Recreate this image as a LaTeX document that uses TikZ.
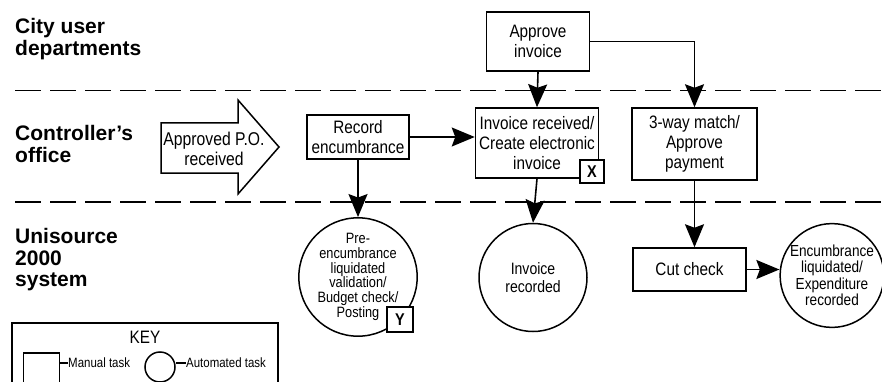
\documentclass[tikz,border=0pt]{standalone}
\usepackage{fontspec}
\setmainfont{Liberation Sans}
\newfontfamily\narrowfont[FakeStretch=0.85]{Liberation Sans}
\usetikzlibrary{arrows.meta}
\begin{document}
\begin{tikzpicture}[x=1pt,y=-1pt,
  every node/.style={inner sep=0pt},
  lane/.style={anchor=north west, align=left,
    font=\bfseries\fontsize{21}{21.5}\selectfont},
  task/.style={draw, line width=1.5pt, align=center,
    font=\narrowfont\fontsize{18}{20}\selectfont},
  autotask/.style={circle, draw, line width=1.5pt, align=center},
  tag/.style={draw, fill=white, line width=1.5pt,
    font=\bfseries\narrowfont\fontsize{17}{17}\selectfont},
  flow/.style={line width=1.6pt, -{Stealth[length=23pt,width=19pt,inset=3.5pt]}},
  divider/.style={line width=1.5pt, dash pattern=on 26pt off 9pt},
  keytext/.style={font=\narrowfont\fontsize{13.5}{14}\selectfont, anchor=west}]

\clip (0,0) rectangle (882,382);
\fill[white] (0,0) rectangle (882,382);

% swim-lane dividers
\draw[divider] (15,90.5) -- (882,90.5);
\draw[divider] (15,202) -- (882,202);

% lane titles
\node[lane] (laneA) at (15,18.5) {City user\\departments};
\node[lane] (laneB) at (15,125.5) {Controller's\\office};
\node[lane] (laneC) at (15,228.5) {Unisource\\2000\\system};

% incoming purchase order
\draw[line width=1.5pt, line join=miter]
  (161,123) -- (238,123) -- (238,100) -- (279,147) -- (238,194)
  -- (238,173) -- (161,173) -- cycle;
\node[font=\narrowfont\fontsize{18.5}{20}\selectfont, align=center]
  (po) at (214,149) {Approved P.O.\\received};

% manual tasks
\node[task, minimum width=103pt, minimum height=59pt] (appr) at (538,41.5) {Approve\\invoice};
\node[task, minimum width=102pt, minimum height=44pt] (rec) at (358,137) {Record\\encumbrance};
\node[task, minimum width=123pt, minimum height=70pt] (inv) at (537,143) {Invoice received/\\Create electronic\\invoice};
\node[task, minimum width=125pt, minimum height=72pt] (tw) at (694.5,144) {3-way match/\\Approve\\payment};
\node[task, minimum width=113pt, minimum height=43pt] (cut) at (689.5,269.5) {Cut check};

% automated tasks
\node[autotask, minimum size=109pt, font=\narrowfont\fontsize{15}{14.7}\selectfont]
  (pre) at (358,277) {Pre-\\encumbrance\\liquidated\\validation/\\Budget check/\\Posting};
\node[autotask, minimum size=108pt, font=\narrowfont\fontsize{16.5}{18.5}\selectfont]
  (irec) at (533,277.5) {Invoice\\recorded};
\node[autotask, minimum size=100pt, font=\narrowfont\fontsize{16}{16.5}\selectfont]
  (enc) at (832,275.5) {Encumbrance\\liquidated/\\Expenditure\\recorded};

% tags
\node[tag, minimum width=24pt, minimum height=23pt] (tagX) at (592,171.5) {X};
\node[tag, minimum width=26pt, minimum height=25pt] (tagY) at (400,319.5) {Y};

% flow
\draw[flow] (appr.south) -- (inv.north);
\draw[flow] (appr.east) -- (appr.east -| tw.north) -- (tw.north);
\draw[flow] (rec.east) -- (inv.west |- rec.east);
\draw[flow] (rec.south) -- (pre.north);
\draw[flow] (inv.south) -- (irec.north);
\draw[flow] (tw.south) -- (tw.south |- cut.north);
\draw[flow] (cut.east) -- (cut.east -| enc.west);

% key
\draw[line width=1.5pt] (12,400) -- (12,323) -- (278,323) -- (278,400);
\node[font=\narrowfont\fontsize{18}{18}\selectfont] (keytitle) at (145,337) {KEY};
\node[draw, line width=1.5pt, minimum width=36pt, minimum height=40pt] (keybox) at (41.5,373) {};
\coordinate (keyboxlead) at (68,363);
\draw[line width=1.2pt] (keybox.east |- keyboxlead) -- (keyboxlead);
\node[keytext] (keyman) at (keyboxlead) {Manual task};
\node[circle, draw, line width=1.5pt, minimum size=30pt] (keycirc) at (160,367) {};
\coordinate (keycirclead) at (186,363);
\draw[line width=1.2pt] (keycirc.east |- keycirclead) -- (keycirclead);
\node[keytext] (keyauto) at (keycirclead) {Automated task};
\end{tikzpicture}
\end{document}
